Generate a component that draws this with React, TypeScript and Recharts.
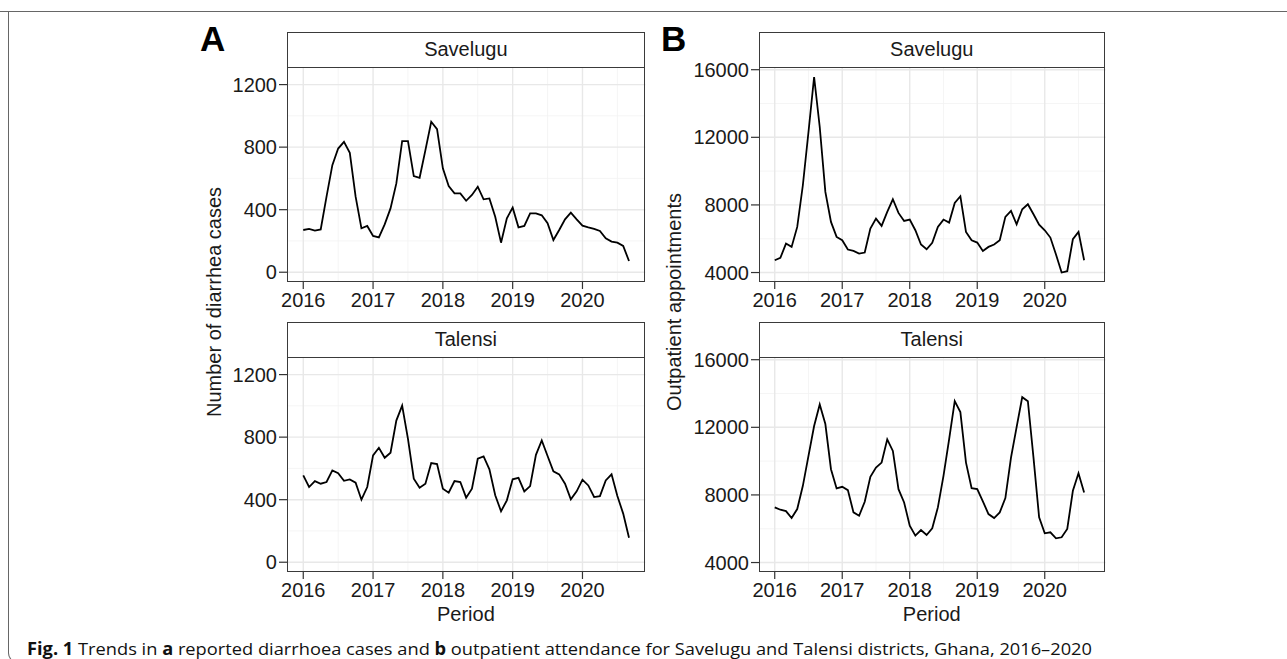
import React from "react";
import { LineChart, Line, XAxis, YAxis, ReferenceLine } from "recharts";

// monthly periods, Jan 2016 onwards (decimal years)
const PERIODS = Array.from({ length: 57 }, (_, i) => 2016 + i / 12);

const SAVELUGU_DIARRHOEA = [
    270, 277, 266, 274, 483, 685, 791, 834, 764, 483, 281, 296,
    232, 223, 306, 408, 568, 838, 838, 615, 604, 781, 962, 915,
    664, 551, 504, 504, 457, 494, 547, 466, 472, 355, 189, 345,
    413, 287, 296, 377, 377, 364, 313, 206, 270, 338, 381, 338,
    298, 287, 277, 264, 217, 196, 189, 168, 72,
];

const TALENSI_DIARRHOEA = [
    555, 481, 519, 502, 513, 587, 570, 521, 530, 509, 400, 481,
    683, 732, 668, 700, 906, 1002, 789, 534, 477, 502, 634, 628,
    470, 445, 519, 513, 413, 470, 662, 677, 594, 428, 326, 396,
    530, 540, 453, 487, 687, 779, 679, 581, 562, 502, 402, 453,
    528, 491, 417, 423, 523, 562, 423, 311, 157,
];

const SAVELUGU_OPD = [
    4729, 4867, 5714, 5517, 6700, 9163, 12315, 15567, 12611, 8768, 6995, 6108,
    5911, 5360, 5281, 5123, 5182, 6601, 7192, 6759, 7586, 8335, 7527, 7054,
    7133, 6502, 5655, 5379, 5754, 6700, 7133, 6956, 8118, 8512, 6404, 5911,
    5773, 5281, 5517, 5655, 5911, 7291, 7645, 6857, 7744, 8039, 7448, 6837,
    6502, 6069, 5064, 4000, 4079, 5970, 6404, 4729,
];

const TALENSI_OPD = [
    7261, 7124, 7045, 6633, 7163, 8538, 10306, 12075, 13352, 12193, 9521, 8381,
    8479, 8283, 6967, 6770, 7595, 9069, 9619, 9914, 11289, 10601, 8342, 7556,
    6181, 5591, 5925, 5631, 6024, 7261, 9128, 11289, 13548, 12900, 9914, 8401,
    8342, 7615, 6868, 6633, 6967, 7811, 10208, 12016, 13784, 13548, 10208, 6672,
    5729, 5788, 5434, 5493, 5984, 8244, 9285, 8145,
];

const YEAR_TICKS = [2016, 2017, 2018, 2019, 2020];
const YEAR_MINOR = [2016.5, 2017.5, 2018.5, 2019.5, 2020.5];
const CASES_TICKS = [0, 400, 800, 1200];
const CASES_MINOR = [200, 600, 1000];
const OPD_TICKS = [4000, 8000, 12000, 16000];
const OPD_MINOR = [6000, 10000, 14000];

const FONT = "'Liberation Sans', Arial, sans-serif";
const INK = "#1a1a1a";
const X_DOMAIN = [2015.767, 2020.9];

interface PanelProps {
    left: number;
    top: number;
    width: number;
    height: number;
    values: number[];
    yDomain: number[];
    yTicks: number[];
    yMinor: number[];
    strip: string;
}

function Panel({ left, top, width, height, values, yDomain, yTicks, yMinor, strip }: PanelProps) {
    const data = values.map((v, i) => ({ t: PERIODS[i], v }));
    const axisW = 90;
    const padTop = 14;
    return (
        <>
            <div style={{ position: "absolute", left: left - axisW, top: top - padTop }}>
                <LineChart
                    width={axisW + width + 6}
                    height={height + 34 + padTop}
                    data={data}
                    margin={{ top: padTop, right: 6, bottom: 0, left: 0 }}
                >
                    <XAxis
                        dataKey="t"
                        type="number"
                        domain={X_DOMAIN}
                        ticks={YEAR_TICKS}
                        allowDataOverflow
                        axisLine={false}
                        tickLine={{ stroke: "#333", strokeWidth: 1.2 }}
                        tickSize={7}
                        tickMargin={4}
                        height={34}
                        interval={0}
                        tick={{ fill: INK, fontSize: 20, fontFamily: FONT }}
                    />
                    <YAxis
                        type="number"
                        domain={yDomain}
                        ticks={yTicks}
                        allowDataOverflow
                        axisLine={false}
                        tickLine={{ stroke: "#333", strokeWidth: 1.2 }}
                        tickSize={8}
                        tickMargin={2}
                        width={axisW}
                        interval={0}
                        tick={{ fill: INK, fontSize: 20, fontFamily: FONT }}
                    />
                    {YEAR_MINOR.map((x) => (
                        <ReferenceLine key={`xm${x}`} x={x} stroke="#f3f3f3" strokeWidth={0.8} />
                    ))}
                    {yMinor.map((y) => (
                        <ReferenceLine key={`ym${y}`} y={y} stroke="#f3f3f3" strokeWidth={0.8} />
                    ))}
                    {YEAR_TICKS.map((x) => (
                        <ReferenceLine key={`x${x}`} x={x} stroke="#e8e8e8" strokeWidth={1.4} />
                    ))}
                    {yTicks.map((y) => (
                        <ReferenceLine key={`y${y}`} y={y} stroke="#e8e8e8" strokeWidth={1.4} />
                    ))}
                    <Line
                        type="linear"
                        dataKey="v"
                        stroke="#000"
                        strokeWidth={1.8}
                        dot={false}
                        isAnimationActive={false}
                    />
                </LineChart>
            </div>
            {/* panel border */}
            <div
                style={{
                    position: "absolute",
                    left,
                    top,
                    width,
                    height,
                    boxSizing: "border-box",
                    border: "1.3px solid #3a3a3a",
                    pointerEvents: "none",
                }}
            />
            {/* facet strip */}
            <div
                style={{
                    position: "absolute",
                    left,
                    top: top - 35,
                    width,
                    height: 36,
                    boxSizing: "border-box",
                    border: "1.3px solid #3a3a3a",
                    background: "#fff",
                    display: "flex",
                    alignItems: "center",
                    justifyContent: "center",
                    fontFamily: FONT,
                    fontSize: 20,
                    color: INK,
                }}
            >
                {strip}
            </div>
        </>
    );
}

const textStyle: React.CSSProperties = {
    position: "absolute",
    fontFamily: FONT,
    fontSize: 20,
    color: INK,
    whiteSpace: "nowrap",
    lineHeight: "24px",
};

export default function App() {
    const aLeft = 286.7;
    const aWidth = 645 - 286.7;
    const bLeft = 758.5;
    const bWidth = 1105 - 758.5;
    const topRow = 66.7;
    const bottomRow = 356.5;
    const plotH = 215;
    const casesDomain = [-62.5, 1312.5];
    const opdDomain = [3440, 16160];

    return (
        <div style={{ position: "relative", width: 1287, height: 659, background: "#fff", overflow: "hidden" }}>
            <style>{"body{margin:0}"}</style>

            {/* figure frame */}
            <div style={{ position: "absolute", left: 0, top: 11, width: 1287, height: 0, borderTop: "1.3px solid #666" }} />
            <div
                style={{
                    position: "absolute",
                    left: 8,
                    top: 11,
                    width: 30,
                    height: 652,
                    boxSizing: "border-box",
                    borderLeft: "1.3px solid #666",
                    borderBottom: "1.3px solid #666",
                    borderBottomLeftRadius: 10,
                }}
            />

            <div style={{ ...textStyle, left: 200, top: 19, fontSize: 35, fontWeight: 700, lineHeight: "40px", color: "#000" }}>A</div>
            <div style={{ ...textStyle, left: 661, top: 19, fontSize: 35, fontWeight: 700, lineHeight: "40px", color: "#000" }}>B</div>

            <Panel left={aLeft} top={topRow} width={aWidth} height={plotH} values={SAVELUGU_DIARRHOEA}
                yDomain={casesDomain} yTicks={CASES_TICKS} yMinor={CASES_MINOR} strip="Savelugu" />
            <Panel left={aLeft} top={bottomRow} width={aWidth} height={plotH} values={TALENSI_DIARRHOEA}
                yDomain={casesDomain} yTicks={CASES_TICKS} yMinor={CASES_MINOR} strip="Talensi" />
            <Panel left={bLeft} top={topRow} width={bWidth} height={plotH} values={SAVELUGU_OPD}
                yDomain={opdDomain} yTicks={OPD_TICKS} yMinor={OPD_MINOR} strip="Savelugu" />
            <Panel left={bLeft} top={bottomRow} width={bWidth} height={plotH} values={TALENSI_OPD}
                yDomain={opdDomain} yTicks={OPD_TICKS} yMinor={OPD_MINOR} strip="Talensi" />

            {/* axis titles */}
            <div style={{ ...textStyle, left: 214, top: 301.7, transform: "translate(-50%, -50%) rotate(-90deg)" }}>
                Number of diarrhea cases
            </div>
            <div style={{ ...textStyle, left: 674, top: 301.7, transform: "translate(-50%, -50%) rotate(-90deg)" }}>
                Outpatient appointments
            </div>
            <div style={{ ...textStyle, left: aLeft + aWidth / 2, top: 602, transform: "translateX(-50%)" }}>Period</div>
            <div style={{ ...textStyle, left: bLeft + bWidth / 2, top: 602, transform: "translateX(-50%)" }}>Period</div>

            {/* caption */}
            <svg style={{ position: "absolute", left: 0, top: 630 }} width={1287} height={29}>
                <text
                    x={27}
                    y={25}
                    textLength={1065}
                    lengthAdjust="spacingAndGlyphs"
                    fontFamily="'Open Sans', 'Noto Sans', sans-serif"
                    fontSize={17}
                    fill="#111"
                >
                    <tspan fontWeight={700}>Fig. 1</tspan>
                    {"  Trends in "}
                    <tspan fontWeight={700}>a</tspan>
                    {" reported diarrhoea cases and "}
                    <tspan fontWeight={700}>b</tspan>
                    {" outpatient attendance for Savelugu and Talensi districts, Ghana, 2016–2020"}
                </text>
            </svg>
        </div>
    );
}
